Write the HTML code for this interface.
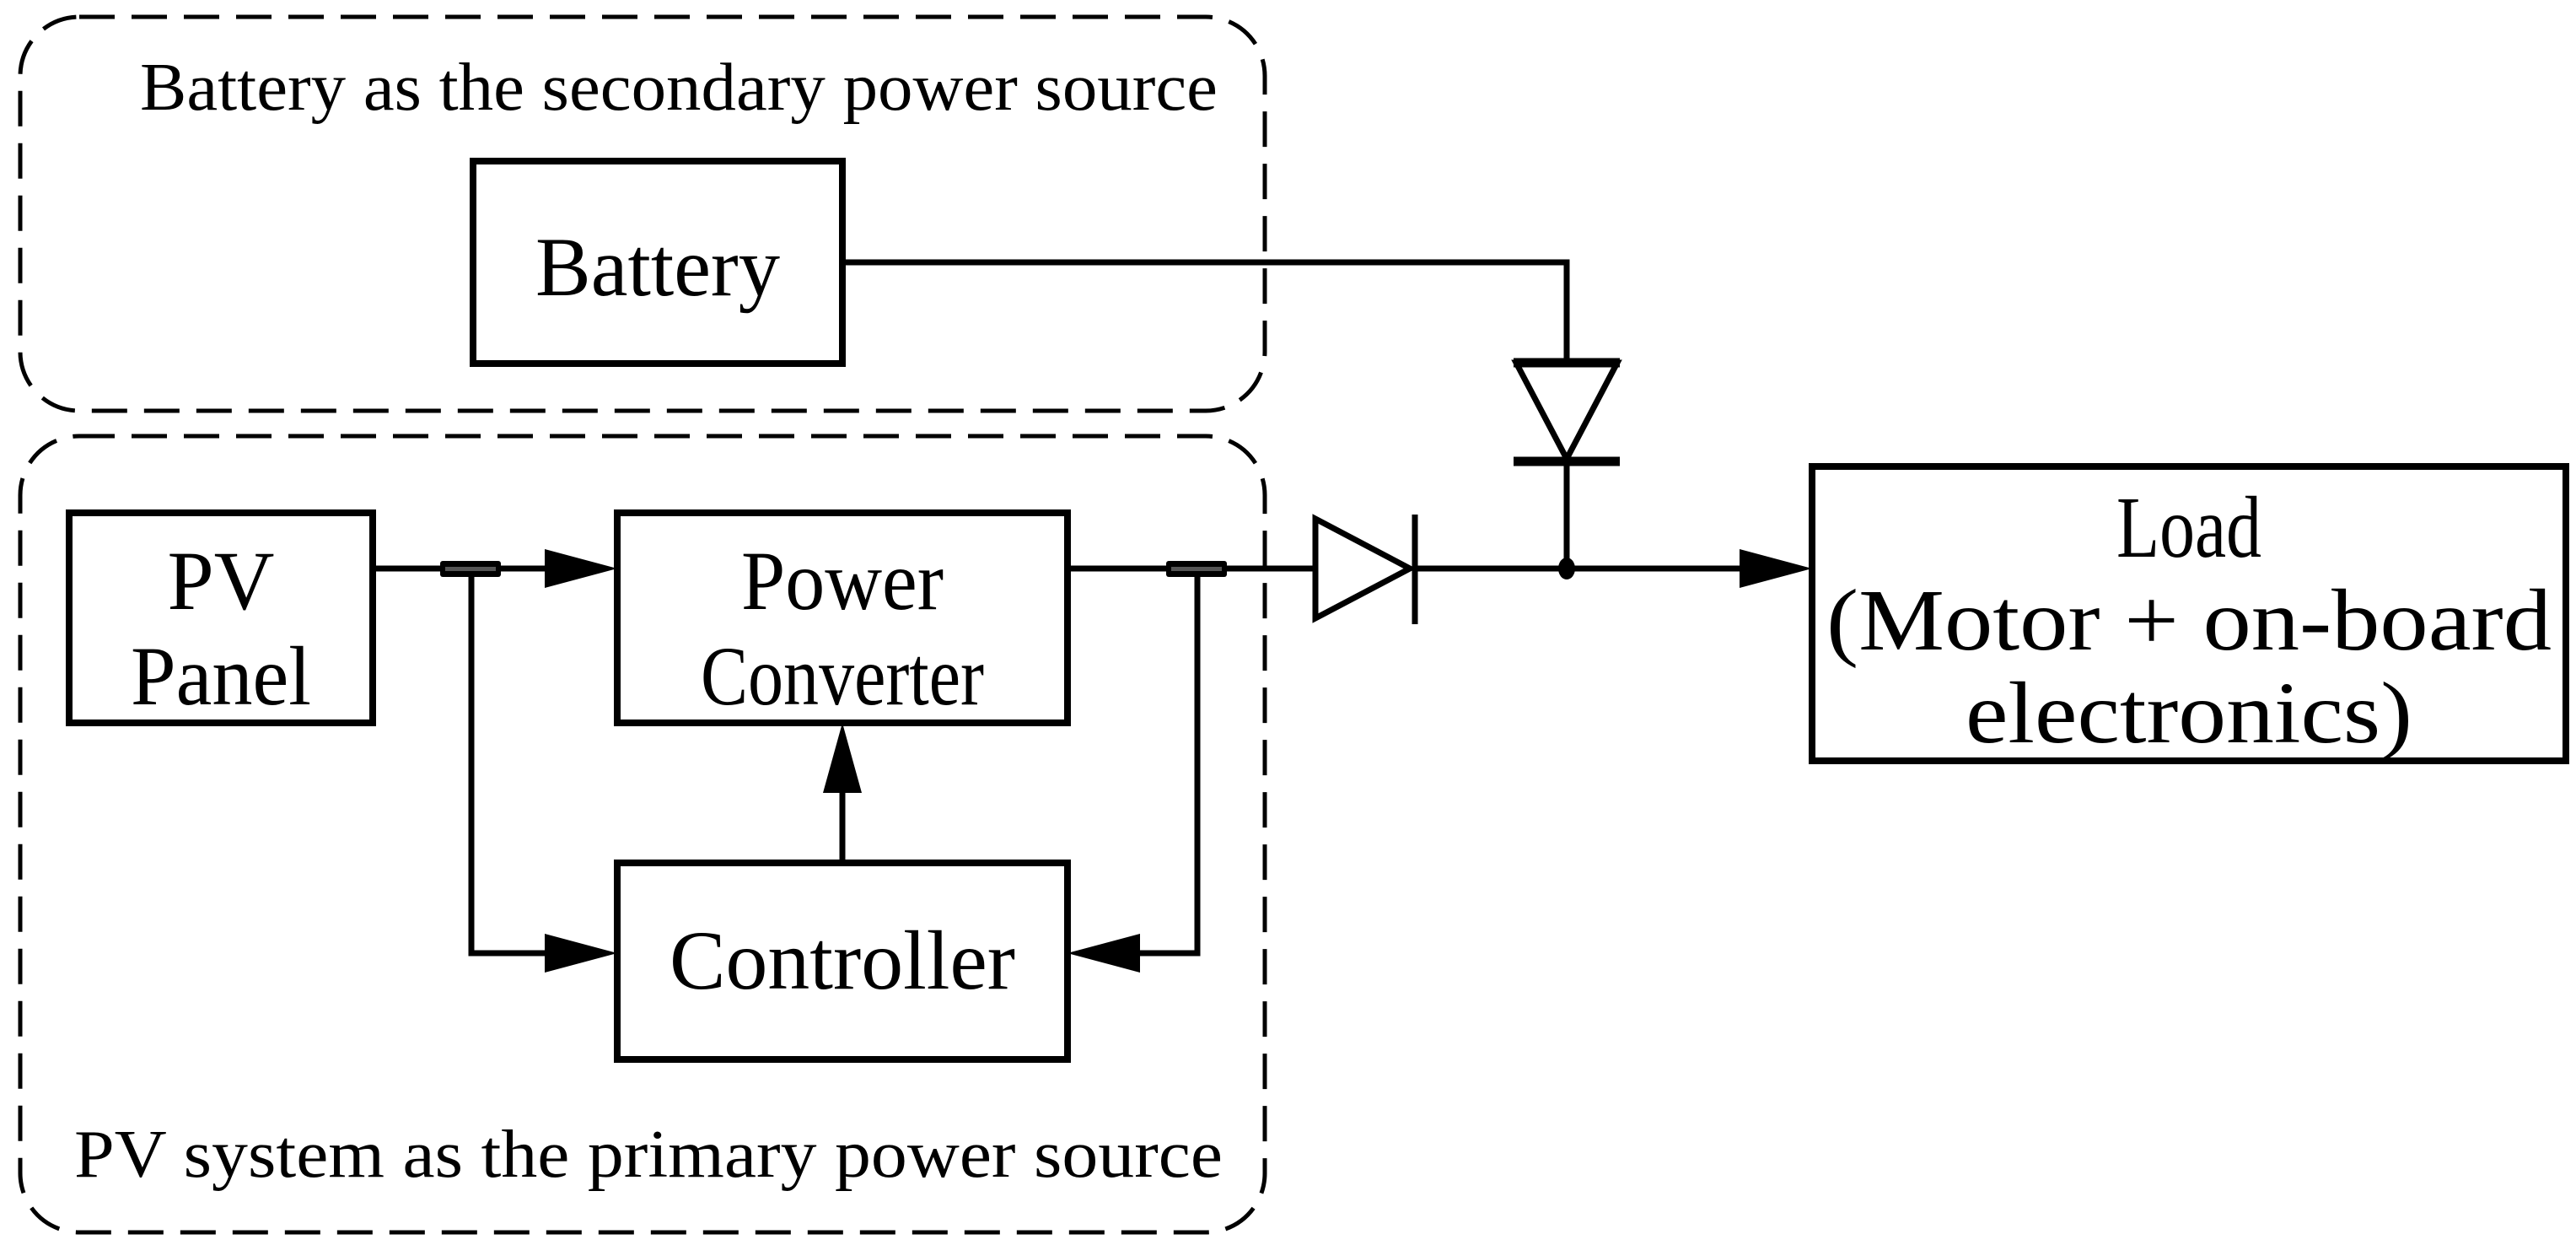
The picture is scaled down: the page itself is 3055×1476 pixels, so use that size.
<!DOCTYPE html>
<html><head><meta charset="utf-8"><style>html,body{margin:0;padding:0;background:#fff}svg{display:block}</style></head>
<body>
<svg width="3055" height="1476" viewBox="0 0 3055 1476" xmlns="http://www.w3.org/2000/svg" font-family="Liberation Serif, serif" fill="none" stroke="#000">
<rect x="24" y="20" width="1476" height="467" rx="70" stroke-width="5" stroke-dasharray="42,20"/>
<rect x="24" y="517" width="1476" height="944" rx="70" stroke-width="5" stroke-dasharray="42,20"/>
<g fill="#000" stroke="none" font-size="80">
<text x="166" y="130" textLength="1278" lengthAdjust="spacingAndGlyphs">Battery as the secondary power source</text>
<text x="88" y="1395" textLength="1362" lengthAdjust="spacingAndGlyphs">PV system as the primary power source</text>
</g>
<g stroke-width="8">
<rect x="561" y="191" width="438" height="240"/>
<rect x="82" y="608" width="360" height="249"/>
<rect x="732" y="608" width="534" height="249"/>
<rect x="732" y="1023" width="534" height="233"/>
<rect x="2149" y="553" width="894" height="349"/>
</g>
<g fill="#000" stroke="none" font-size="100" text-anchor="middle">
<text x="780" y="350" textLength="290" lengthAdjust="spacingAndGlyphs">Battery</text>
<text x="262" y="722" textLength="127" lengthAdjust="spacingAndGlyphs">PV</text>
<text x="262" y="835" textLength="214" lengthAdjust="spacingAndGlyphs">Panel</text>
<text x="999" y="722" textLength="240" lengthAdjust="spacingAndGlyphs">Power</text>
<text x="999" y="835" textLength="336" lengthAdjust="spacingAndGlyphs">Converter</text>
<text x="999" y="1172" textLength="410" lengthAdjust="spacingAndGlyphs">Controller</text>
</g>
<g fill="#000" stroke="none" font-size="104" text-anchor="middle">
<text x="2596" y="660" textLength="172" lengthAdjust="spacingAndGlyphs">Load</text>
<text x="2596" y="770" textLength="860" lengthAdjust="spacingAndGlyphs">(Motor + on-board</text>
<text x="2596" y="880" textLength="530" lengthAdjust="spacingAndGlyphs">electronics)</text>
</g>
<g stroke-width="7">
<polyline points="999,311 1858,311 1858,430"/>
<line x1="1858" y1="545" x2="1858" y2="674"/>
<line x1="442" y1="674" x2="680" y2="674"/>
<line x1="1266" y1="674" x2="1560" y2="674"/>
<line x1="1675" y1="674" x2="2070" y2="674"/>
<polyline points="559,674 559,1130 660,1130"/>
<polyline points="1420,674 1420,1130 1340,1130"/>
<line x1="999" y1="1023" x2="999" y2="930"/>
</g>
<rect x="522" y="665" width="72" height="19" rx="3" fill="#000" stroke="none"/>
<rect x="1383" y="665" width="72" height="19" rx="3" fill="#000" stroke="none"/>
<rect x="528" y="672" width="60" height="5" fill="#555" stroke="none"/>
<rect x="1389" y="672" width="60" height="5" fill="#555" stroke="none"/>
<g fill="#000" stroke="none">
<polygon points="732,674 646,651 646,697"/>
<polygon points="732,1130 646,1107 646,1153"/>
<polygon points="1266,1130 1352,1107 1352,1153"/>
<polygon points="999,857 976,940 1022,940"/>
<polygon points="2149,674 2063,651 2063,697"/>
<ellipse cx="1858" cy="674" rx="10" ry="13"/>
</g>
<g stroke-width="7" fill="#fff">
<polygon points="1560,615 1560,733 1672,674"/>
<line x1="1678" y1="610" x2="1678" y2="740"/>
<polygon points="1798,430 1918,430 1858,544"/>
<line x1="1795" y1="547" x2="1921" y2="547" stroke-width="11"/>
<line x1="1795" y1="430" x2="1921" y2="430" stroke-width="11"/>
</g>
</svg>
</body></html>
